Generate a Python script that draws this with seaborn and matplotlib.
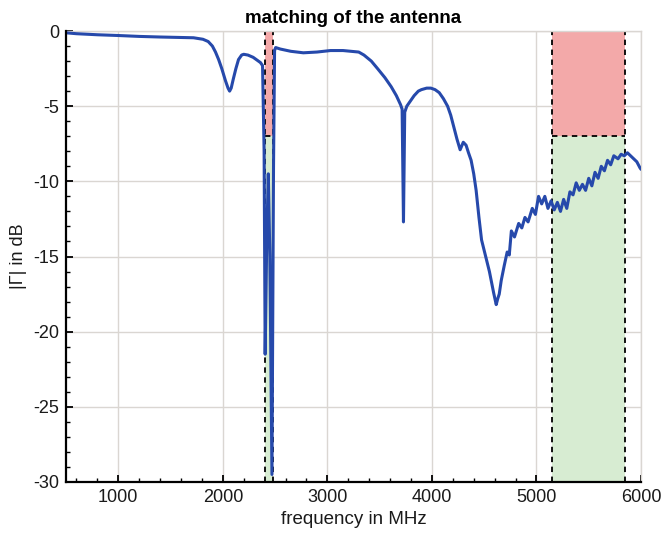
import matplotlib
matplotlib.use("Agg")
import matplotlib.pyplot as plt
import seaborn as sns
import pandas as pd
from matplotlib.patches import Rectangle

# ---- data ----
freq_mhz = [500, 600, 800, 1000, 1200, 1400, 1600, 1720, 1810, 1860, 1900, 1930, 1960, 1990, 2025, 2050,
            2065, 2080, 2100, 2125, 2150, 2180, 2200, 2240, 2290, 2330, 2360, 2380,
            2395, 2405, 2420, 2435, 2450, 2470, 2485, 2495,
            2505, 2550, 2650, 2770, 2900, 3030, 3150, 3220, 3300, 3350, 3420, 3480, 3550, 3610, 3660, 3700,
            3715, 3728, 3740, 3760, 3800, 3830, 3870, 3900, 3950, 3990, 4030, 4070, 4110, 4150, 4180, 4210,
            4240, 4270, 4300, 4327, 4350, 4375, 4400, 4423, 4450, 4475, 4500, 4525, 4550, 4570, 4590, 4615,
            4630, 4644, 4663, 4692, 4720, 4740, 4760, 4790, 4830, 4860, 4890, 4920, 4960, 4990, 5020, 5050,
            5080, 5110, 5140, 5170, 5200, 5230, 5260, 5290, 5320, 5350, 5380, 5410, 5440, 5470, 5500, 5530,
            5560, 5590, 5620, 5650, 5680, 5710, 5740, 5780, 5810, 5840, 5870, 5900, 5930, 5960, 5990, 6000]
gamma_db = [-0.12, -0.18, -0.25, -0.3, -0.36, -0.4, -0.43, -0.45, -0.55, -0.7, -1.0, -1.4, -1.9, -2.5, -3.3, -3.8,
            -4.0, -3.8, -3.2, -2.5, -1.9, -1.6, -1.55, -1.6, -1.75, -1.95, -2.1, -2.3,
            -8.0, -21.5, -14.0, -9.5, -15.0, -29.5, -9.0, -1.3,
            -1.1, -1.2, -1.35, -1.45, -1.4, -1.3, -1.3, -1.35, -1.4, -1.6, -2.0, -2.5, -3.1, -3.7, -4.3, -4.9,
            -5.2, -12.7, -5.4, -5.0, -4.6, -4.3, -4.0, -3.9, -3.8, -3.8, -3.9, -4.1, -4.5, -5.0, -5.6, -6.4,
            -7.2, -7.9, -7.4, -7.6, -8.1, -8.6, -9.5, -10.6, -12.4, -13.9, -14.6, -15.3, -16.0, -16.7, -17.4, -18.2,
            -17.8, -17.5, -16.6, -15.6, -14.7, -14.9, -13.3, -13.7, -12.8, -13.1, -12.4, -12.7, -11.8, -12.2, -11.0, -11.5,
            -11.0, -11.8, -11.3, -11.9, -11.4, -12.0, -11.2, -11.8, -10.7, -10.9, -10.1, -10.6, -10.2, -10.6, -9.8, -10.3,
            -9.4, -9.8, -9.0, -9.3, -8.6, -8.9, -8.3, -8.5, -8.2, -8.3, -8.1, -8.3, -8.5, -8.7, -9.1, -9.2]

band_low = [2400, 5150]
band_high = [2483.5, 5850]
limit_db = -7
x_ticks = [1000, 2000, 3000, 4000, 5000, 6000]
y_ticks = [0, -5, -10, -15, -20, -25, -30]

title = "matching of the antenna"
xlabel = "frequency in MHz"
ylabel = "|Γ| in dB"

# ---- style ----
sns.set_theme(style="white")
plt.rcParams["font.family"] = ["Liberation Sans", "DejaVu Sans"]
plt.rcParams["axes.unicode_minus"] = False
plt.rcParams["text.color"] = "#1a1a1a"
plt.rcParams["axes.labelcolor"] = "#1a1a1a"

fig = plt.figure(figsize=(6.61, 5.40), dpi=100)
ax = fig.add_axes([66/661, 58/540, 575/661, 451/540])

ymin, ymax = -30, 0
red = "#f3a9a9"
green = "#d7ecd2"
for lo, hi in zip(band_low, band_high):
    ax.add_patch(Rectangle((lo, limit_db), hi - lo, ymax - limit_db, facecolor=red,
                           edgecolor="none", zorder=1))
    ax.add_patch(Rectangle((lo, ymin), hi - lo, limit_db - ymin, facecolor=green,
                           edgecolor="none", zorder=1))
    ax.plot([lo, lo], [ymin, ymax], color="black", ls=(0, (3, 2.5)), lw=1.3, zorder=2)
    ax.plot([hi, hi], [ymin, ymax], color="black", ls=(0, (3, 2.5)), lw=1.3, zorder=2)
    ax.plot([lo, hi], [limit_db, limit_db], color="black", ls=(0, (3, 2.5)), lw=1.3, zorder=2)

df = pd.DataFrame({"f": freq_mhz, "g": gamma_db})
sns.lineplot(data=df, x="f", y="g", ax=ax, color="#2649ab", lw=2.2, sort=False, zorder=4)

ax.set_xlim(500, 6000)
ax.set_ylim(ymin, ymax)
ax.set_xticks(x_ticks)
ax.set_yticks(y_ticks)
ax.set_xticks(list(range(600, 6000, 200)), minor=True)
ax.set_yticks(list(range(-29, 0, 1)), minor=True)
ax.grid(True, which="major", color="#dad6d2", lw=1.0, zorder=0)
ax.set_axisbelow(True)

ax.tick_params(axis="both", which="major", direction="in", length=5, width=1.3,
               labelsize=13, colors="black", labelcolor="#1a1a1a",
               bottom=True, left=True, top=False, right=False, pad=5)
ax.tick_params(axis="both", which="minor", direction="in", length=3, width=1.0,
               colors="black", bottom=True, left=True, top=False, right=False)
for side in ["left", "bottom"]:
    ax.spines[side].set_color("black")
    ax.spines[side].set_linewidth(1.6)
    ax.spines[side].set_zorder(5)
for side in ["top", "right"]:
    ax.spines[side].set_color("#dad6d2")
    ax.spines[side].set_linewidth(1.0)

ax.set_xlabel(xlabel, fontsize=13.5, labelpad=4)
ax.set_ylabel(ylabel, fontsize=13, labelpad=4)
ax.set_title(title, fontsize=13.5, fontweight="bold", pad=6, color="black")

fig.savefig("out.png", dpi=100, facecolor="white")
